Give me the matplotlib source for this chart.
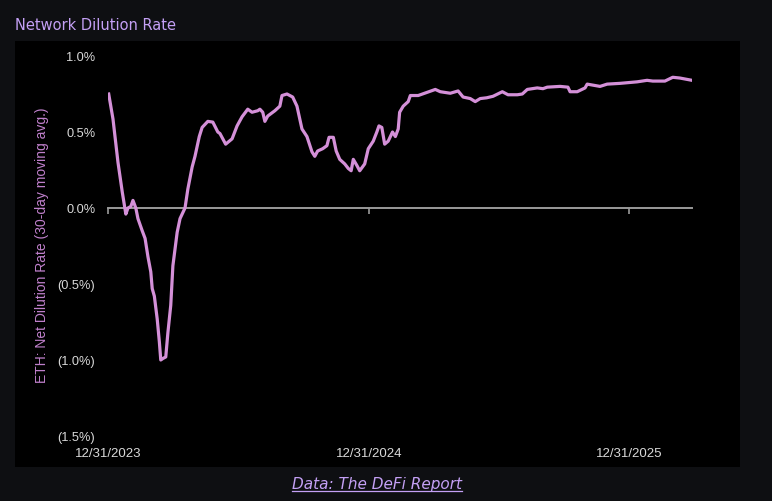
import matplotlib
matplotlib.use("Agg")
import matplotlib.pyplot as plt
import matplotlib.dates as mdates
from matplotlib.lines import Line2D
from matplotlib.patches import Rectangle
import numpy as np

# ETH net dilution rate, 30-day moving avg (%)
dates = [
    "2024-01-01", "2024-01-07", "2024-01-14", "2024-01-20", "2024-01-25", "2024-01-28",
    "2024-02-01", "2024-02-04", "2024-02-08", "2024-02-11", "2024-02-17", "2024-02-21",
    "2024-02-25", "2024-02-29", "2024-03-02", "2024-03-05", "2024-03-09", "2024-03-12",
    "2024-03-14", "2024-03-17", "2024-03-21", "2024-03-24", "2024-03-28", "2024-03-31",
    "2024-04-06", "2024-04-10", "2024-04-17", "2024-04-21", "2024-04-27", "2024-05-01",
    "2024-05-07", "2024-05-11", "2024-05-15", "2024-05-19", "2024-05-26", "2024-06-02",
    "2024-06-05", "2024-06-13", "2024-06-22", "2024-06-29", "2024-07-06", "2024-07-14",
    "2024-07-20", "2024-07-28", "2024-07-31", "2024-08-04", "2024-08-07", "2024-08-11",
    "2024-08-21", "2024-08-28", "2024-08-31", "2024-09-07", "2024-09-15", "2024-09-21",
    "2024-09-28", "2024-10-05", "2024-10-12", "2024-10-16", "2024-10-20", "2024-10-27",
    "2024-11-02", "2024-11-05", "2024-11-11", "2024-11-15", "2024-11-20", "2024-11-27",
    "2024-12-02", "2024-12-06", "2024-12-09", "2024-12-14", "2024-12-18", "2024-12-25",
    "2024-12-30", "2025-01-06", "2025-01-11", "2025-01-14", "2025-01-18", "2025-01-22",
    "2025-01-27", "2025-02-02", "2025-02-06", "2025-02-10", "2025-02-12", "2025-02-17",
    "2025-02-24", "2025-02-27", "2025-03-10", "2025-03-22", "2025-04-03", "2025-04-10",
    "2025-04-24", "2025-05-05", "2025-05-12", "2025-05-22", "2025-05-29", "2025-06-05",
    "2025-06-14", "2025-06-23", "2025-07-06", "2025-07-14", "2025-07-27", "2025-08-03",
    "2025-08-10", "2025-08-24", "2025-09-01", "2025-09-07", "2025-09-25", "2025-10-06",
    "2025-10-09", "2025-10-19", "2025-10-30", "2025-11-02", "2025-11-20", "2025-11-30",
    "2025-12-18", "2026-01-11", "2026-01-25", "2026-02-02", "2026-02-19", "2026-03-02",
    "2026-03-12", "2026-03-29",
]
dilution = [
    0.75, 0.585, 0.30, 0.105, -0.04, 0.0,
    0.01, 0.05, 0.0, -0.07, -0.15, -0.20,
    -0.32, -0.42, -0.53, -0.58, -0.73, -0.88,
    -1.00, -0.99, -0.98, -0.82, -0.64, -0.38,
    -0.16, -0.07, 0.0, 0.125, 0.27, 0.34,
    0.47, 0.53, 0.55, 0.57, 0.565, 0.50,
    0.49, 0.42, 0.455, 0.54, 0.60, 0.65,
    0.63, 0.64, 0.65, 0.63, 0.57, 0.605,
    0.64, 0.67, 0.74, 0.75, 0.73, 0.67,
    0.52, 0.47, 0.37, 0.34, 0.375, 0.39,
    0.41, 0.465, 0.465, 0.375, 0.32, 0.29,
    0.26, 0.245, 0.32, 0.28, 0.245, 0.29,
    0.39, 0.44, 0.50, 0.54, 0.53, 0.42,
    0.44, 0.50, 0.47, 0.52, 0.63, 0.67,
    0.70, 0.74, 0.74, 0.76, 0.78, 0.765,
    0.755, 0.77, 0.73, 0.72, 0.70, 0.72,
    0.725, 0.735, 0.765, 0.745, 0.745, 0.75,
    0.78, 0.79, 0.785, 0.795, 0.80, 0.795,
    0.765, 0.765, 0.79, 0.815, 0.80, 0.815,
    0.82, 0.83, 0.84, 0.835, 0.835, 0.86,
    0.855, 0.84,
]
x_ticks = ["2023-12-31", "2024-12-31", "2025-12-31"]
x_ticklabels = ["12/31/2023", "12/31/2024", "12/31/2025"]
y_ticks = [1.0, 0.5, 0.0, -0.5, -1.0, -1.5]
y_ticklabels = ["1.0%", "0.5%", "0.0%", "(0.5%)", "(1.0%)", "(1.5%)"]

PAGE_BG = "#0e0f12"
LINE = "#d490d8"
TICK_TXT = "#d9d9d9"
ACCENT = "#c4a0f5"

W, H = 772, 502
fig = plt.figure(figsize=(W / 100, H / 100), dpi=100, facecolor=PAGE_BG)

# black chart panel, behind everything
fig.patches.append(Rectangle((15 / W, 1 - 468 / H), 725 / W, 426 / H,
                             transform=fig.transFigure, facecolor="black",
                             edgecolor="none", zorder=-10))

ax = fig.add_axes([108 / W, 1 - 437 / H, 584 / W, 380 / H])
ax.set_facecolor("none")
ax.set_zorder(2)

d = mdates.datestr2num(dates)
ax.plot(d, dilution, color=LINE, lw=2.3, solid_joinstyle="round", zorder=3)

ax.set_xlim(mdates.datestr2num(x_ticks[0]), d[-1])
ax.set_ylim(-1.5, 1.0)

for s in ("top", "right", "left"):
    ax.spines[s].set_visible(False)
ax.spines["bottom"].set_position(("data", 0))
ax.spines["bottom"].set_color("#9a9a9a")
ax.spines["bottom"].set_linewidth(1.4)

tick_nums = mdates.datestr2num(x_ticks)
ax.set_xticks(tick_nums)
ax.tick_params(axis="x", direction="out", length=4, width=1.2, color="#9a9a9a",
               labelbottom=False)

ax.set_yticks(y_ticks)
ax.set_yticklabels(y_ticklabels)
ax.tick_params(axis="y", length=0, pad=9, labelsize=9.2, labelcolor=TICK_TXT)
for t in ax.get_yticklabels():
    t.set_fontfamily("Liberation Sans")

# date labels sit under the plot, not under the zero line
sec = ax.secondary_xaxis("bottom")
sec.set_xticks(tick_nums)
sec.set_xticklabels(x_ticklabels)
sec.tick_params(length=0, pad=8, labelsize=9.5, labelcolor=TICK_TXT)
sec.spines["bottom"].set_visible(False)
for t in sec.get_xticklabels():
    t.set_fontfamily("Liberation Sans")

fig.text(42 / W, 1 - 245 / H, "ETH: Net Dilution Rate (30-day moving avg.)",
         rotation=90, ha="center", va="center", color="#c080cc", fontsize=10,
         fontfamily="Liberation Sans")

fig.text(15 / W, 1 - 25 / H, "Network Dilution Rate", ha="left", va="center",
         color=ACCENT, fontsize=10.5, fontfamily="DejaVu Sans")

cap = fig.text(377 / W, 1 - 485 / H, "Data: The DeFi Report", ha="center",
               va="center", color=ACCENT, fontsize=11, style="italic",
               fontfamily="DejaVu Sans")

# underline the caption like a link
fig.canvas.draw()
bb = cap.get_window_extent()
fig.add_artist(Line2D([bb.x0 / W, bb.x1 / W], [(bb.y0 + 1) / H, (bb.y0 + 1) / H],
                      transform=fig.transFigure, color=ACCENT, lw=0.9))

fig.savefig("out.png", dpi=100, facecolor=PAGE_BG)
